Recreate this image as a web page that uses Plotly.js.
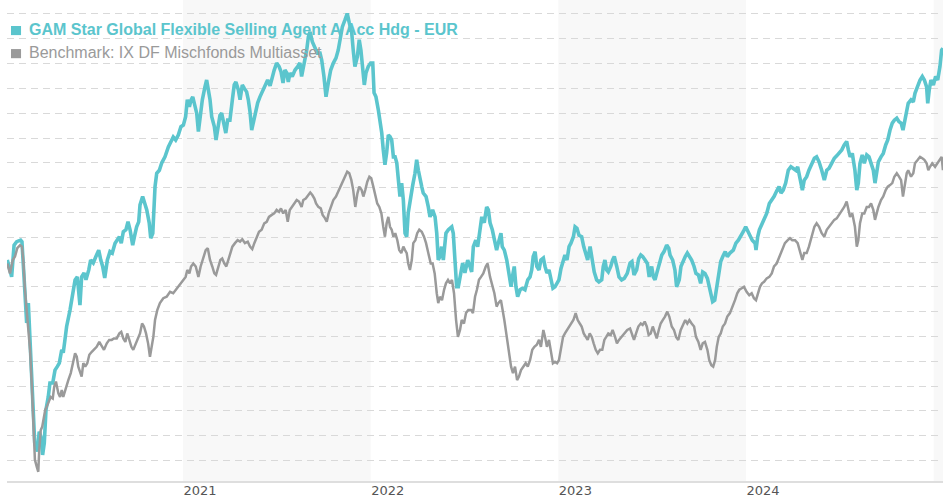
<!DOCTYPE html>
<html>
<head>
<meta charset="utf-8">
<script src="https://cdn.plot.ly/plotly-3.0.1.min.js"></script>
<style>html,body{margin:0;padding:0;background:#fff;}#chart{width:943px;height:500px;}</style>
</head>
<body>
<div id="chart"></div>
<script>
// Time in decimal years, values indexed (start ~ 100)
const fundName = "GAM Star Global Flexible Selling Agent A Acc Hdg - EUR";
const benchName = "Benchmark: IX DF Mischfonds Multiasset";
const yearTicks = [2021, 2022, 2023, 2024];
const yearLabels = ["2021", "2022", "2023", "2024"];
const shadedYears = [[2021, 2022], [2023, 2024], [2025, 2026]];

const fundT = [
2020.064,2020.087,2020.100,2020.114,2020.135,2020.142,2020.153,2020.162,2020.167,2020.176,
2020.189,2020.199,2020.210,2020.224,2020.234,2020.243,2020.252,2020.261,2020.270,2020.282,
2020.291,2020.306,2020.318,2020.330,2020.341,2020.354,2020.362,2020.371,2020.380,2020.398,
2020.412,2020.425,2020.437,2020.444,2020.451,2020.460,2020.473,2020.483,2020.498,2020.508,
2020.522,2020.536,2020.551,2020.562,2020.572,2020.583,2020.597,2020.611,2020.623,2020.638,
2020.650,2020.661,2020.671,2020.682,2020.696,2020.707,2020.718,2020.732,2020.743,2020.753,
2020.764,2020.771,2020.785,2020.798,2020.807,2020.820,2020.828,2020.839,2020.851,2020.860,
2020.874,2020.887,2020.904,2020.922,2020.940,2020.948,2020.961,2020.975,2020.989,2021.002,
2021.014,2021.023,2021.034,2021.043,2021.052,2021.060,2021.073,2021.082,2021.091,2021.103,
2021.117,2021.126,2021.135,2021.144,2021.153,2021.167,2021.176,2021.185,2021.197,2021.206,
2021.215,2021.228,2021.238,2021.250,2021.263,2021.273,2021.282,2021.295,2021.304,2021.316,
2021.327,2021.339,2021.348,2021.357,2021.366,2021.375,2021.384,2021.398,2021.410,2021.423,
2021.437,2021.451,2021.464,2021.476,2021.486,2021.499,2021.512,2021.522,2021.533,2021.543,
2021.553,2021.561,2021.570,2021.582,2021.597,2021.611,2021.623,2021.632,2021.646,2021.659,
2021.668,2021.677,2021.689,2021.703,2021.716,2021.730,2021.739,2021.751,2021.762,2021.774,
2021.787,2021.801,2021.815,2021.827,2021.840,2021.849,2021.863,2021.875,2021.886,2021.899,
2021.907,2021.916,2021.929,2021.939,2021.948,2021.957,2021.966,2021.975,2021.987,2022.000,
2022.011,2022.018,2022.028,2022.041,2022.050,2022.059,2022.067,2022.076,2022.085,2022.094,
2022.103,2022.112,2022.121,2022.130,2022.139,2022.147,2022.156,2022.165,2022.174,2022.183,
2022.192,2022.200,2022.209,2022.224,2022.236,2022.245,2022.254,2022.263,2022.272,2022.280,
2022.295,2022.307,2022.316,2022.330,2022.343,2022.352,2022.360,2022.369,2022.378,2022.387,
2022.401,2022.414,2022.432,2022.440,2022.449,2022.458,2022.467,2022.480,2022.490,2022.502,
2022.517,2022.529,2022.538,2022.547,2022.560,2022.570,2022.582,2022.592,2022.605,2022.618,
2022.627,2022.636,2022.648,2022.662,2022.671,2022.680,2022.694,2022.701,2022.712,2022.725,
2022.737,2022.748,2022.755,2022.765,2022.774,2022.783,2022.796,2022.808,2022.822,2022.837,
2022.849,2022.858,2022.866,2022.876,2022.885,2022.897,2022.907,2022.920,2022.929,2022.939,
2022.950,2022.961,2022.971,2022.982,2022.993,2023.003,2023.014,2023.026,2023.035,2023.046,
2023.057,2023.067,2023.080,2023.089,2023.099,2023.110,2023.124,2023.135,2023.146,2023.156,
2023.169,2023.181,2023.191,2023.204,2023.216,2023.231,2023.239,2023.248,2023.257,2023.266,
2023.279,2023.289,2023.298,2023.311,2023.323,2023.337,2023.351,2023.367,2023.382,2023.392,
2023.403,2023.417,2023.428,2023.439,2023.449,2023.462,2023.474,2023.484,2023.497,2023.506,
2023.515,2023.524,2023.538,2023.551,2023.563,2023.577,2023.588,2023.595,2023.609,2023.621,
2023.630,2023.644,2023.653,2023.666,2023.676,2023.687,2023.698,2023.710,2023.723,2023.733,
2023.746,2023.758,2023.769,2023.781,2023.794,2023.804,2023.813,2023.822,2023.833,2023.844,
2023.854,2023.865,2023.876,2023.889,2023.900,2023.914,2023.932,2023.946,2023.959,2023.971,
2023.985,2023.998,2024.010,2024.021,2024.033,2024.048,2024.053,2024.062,2024.071,2024.083,
2024.096,2024.110,2024.124,2024.137,2024.149,2024.163,2024.176,2024.186,2024.198,2024.211,
2024.225,2024.239,2024.252,2024.265,2024.275,2024.287,2024.300,2024.310,2024.323,2024.335,
2024.350,2024.364,2024.376,2024.389,2024.403,2024.417,2024.430,2024.442,2024.456,2024.470,
2024.483,2024.495,2024.510,2024.523,2024.536,2024.545,2024.554,2024.566,2024.580,2024.590,
2024.598,2024.607,2024.619,2024.630,2024.643,2024.655,2024.666,2024.678,2024.687,2024.696,
2024.705,2024.719,2024.731,2024.744,2024.755,2024.767,2024.779,2024.790,2024.803,2024.815,
2024.826,2024.836,2024.847,2024.856,2024.864,2024.879,2024.891,2024.900,2024.915,2024.927,
2024.939,2024.950,2024.962,2024.968,2024.976,2024.985,2024.998,2025.010,2025.021,2025.033,
2025.042,2025.049
];
const fundV = [
100.4,97.0,103.4,104.1,104.4,104.1,97.0,92.3,87.7,91.7,
80.9,71.6,63.5,61.8,65.8,64.8,61.1,63.5,70.2,72.8,
75.6,75.6,78.2,78.9,79.6,82.3,81.7,84.3,87.0,90.3,
93.0,96.4,97.0,94.8,91.3,97.0,97.8,96.4,98.4,100.4,
99.8,101.1,102.4,100.4,99.1,96.8,100.4,102.1,101.8,103.8,
104.4,105.1,103.8,106.1,106.5,108.1,106.5,103.4,105.4,107.1,
108.1,111.5,113.2,111.9,110.5,107.9,104.8,105.8,115.2,117.9,
118.5,120.0,121.2,123.2,124.6,125.2,124.6,125.6,127.3,127.6,
129.3,132.7,131.3,132.7,133.3,132.1,130.0,126.3,129.3,132.7,
135.3,136.7,134.7,132.7,129.3,127.3,124.6,127.3,129.6,130.0,
128.0,126.0,128.6,128.6,132.7,135.7,136.3,134.7,132.7,135.7,
135.0,134.3,132.7,130.3,126.6,128.3,129.6,132.1,133.3,134.3,
135.7,136.7,135.5,137.4,138.7,140.1,139.4,138.4,136.1,138.7,
138.1,136.3,138.1,137.4,138.7,139.4,140.1,137.4,140.1,142.7,
145.4,146.4,144.4,143.4,142.1,142.1,140.7,137.4,133.3,136.1,
138.7,140.1,141.1,142.7,145.4,147.4,148.8,150.1,148.2,146.2,
142.7,139.4,141.4,144.8,142.7,139.4,135.7,138.1,139.4,140.1,
140.1,134.1,133.3,130.6,128.6,126.0,122.6,119.6,122.0,125.6,
125.3,124.6,121.2,121.2,120.0,116.5,113.2,115.9,112.5,105.8,
105.1,109.9,112.5,115.5,117.9,120.6,118.5,116.5,115.2,113.9,
113.2,111.1,109.1,110.5,109.1,105.8,100.4,101.1,103.1,100.4,
105.8,106.5,107.1,105.8,99.1,95.0,95.0,97.8,99.8,97.8,
100.4,99.1,98.0,103.1,104.4,103.1,107.1,109.1,107.9,111.1,
110.5,107.9,106.5,104.4,102.4,103.8,105.8,103.1,102.4,100.4,
97.8,95.0,97.0,99.1,95.0,93.0,94.4,94.7,94.4,96.4,
97.0,98.4,101.1,102.1,99.1,98.4,100.4,100.8,99.1,97.8,
98.4,96.4,94.7,95.0,95.8,96.4,98.7,100.4,101.4,100.4,
103.1,103.8,105.1,107.1,106.8,105.4,105.1,103.1,101.8,100.4,
103.1,100.4,98.0,96.4,96.0,96.4,99.1,100.4,98.4,98.0,
99.1,100.4,101.1,99.1,97.0,96.4,96.7,97.7,99.8,100.1,
97.4,98.4,100.7,101.4,101.1,100.4,99.7,97.0,99.1,97.0,
96.4,97.7,99.7,101.4,102.1,103.4,102.8,101.4,100.4,98.4,
95.0,96.4,99.1,100.4,101.1,101.8,101.1,100.4,99.1,97.7,
97.4,95.7,98.0,97.7,96.7,95.0,93.0,92.0,92.3,95.0,
98.4,100.1,101.1,102.1,101.1,101.8,102.4,103.8,104.4,105.1,
106.1,107.1,106.1,105.1,104.4,103.8,102.4,105.1,106.5,107.5,
108.5,109.8,111.8,112.5,113.2,114.3,115.2,113.9,114.5,115.9,
118.5,119.2,118.9,118.5,119.2,117.2,114.5,116.5,117.2,118.5,
119.9,120.9,121.2,120.2,118.5,116.5,118.5,118.9,119.9,120.9,
121.4,121.9,122.6,123.6,124.3,122.6,121.2,121.9,118.5,114.5,
115.9,119.9,121.6,119.9,121.6,121.2,119.9,118.5,115.9,118.5,
120.2,121.2,121.9,123.6,124.6,126.6,128.0,128.6,129.0,128.3,
128.0,126.6,128.6,130.6,132.0,132.7,132.3,134.0,135.7,136.7,
137.4,136.7,135.3,132.0,134.7,136.7,135.7,137.4,136.7,139.4,
142.7,143.1
];

const benchT = [
2020.064,2020.078,2020.093,2020.105,2020.117,2020.132,2020.142,2020.149,2020.158,2020.170,
2020.176,2020.185,2020.194,2020.202,2020.211,2020.221,2020.229,2020.234,2020.242,2020.250,
2020.259,2020.266,2020.274,2020.284,2020.295,2020.306,2020.314,2020.323,2020.336,2020.345,
2020.354,2020.362,2020.377,2020.389,2020.402,2020.412,2020.425,2020.434,2020.442,2020.451,
2020.460,2020.469,2020.479,2020.490,2020.501,2020.514,2020.526,2020.540,2020.554,2020.567,
2020.579,2020.594,2020.607,2020.620,2020.632,2020.647,2020.661,2020.671,2020.682,2020.693,
2020.703,2020.714,2020.725,2020.735,2020.750,2020.760,2020.771,2020.782,2020.792,2020.803,
2020.814,2020.824,2020.833,2020.842,2020.851,2020.863,2020.877,2020.895,2020.913,2020.931,
2020.948,2020.961,2020.975,2020.989,2021.002,2021.014,2021.023,2021.034,2021.043,2021.055,
2021.068,2021.082,2021.094,2021.108,2021.121,2021.132,2021.144,2021.156,2021.167,2021.176,
2021.188,2021.199,2021.209,2021.220,2021.231,2021.241,2021.252,2021.263,2021.277,2021.291,
2021.304,2021.316,2021.330,2021.345,2021.357,2021.369,2021.380,2021.393,2021.405,2021.419,
2021.433,2021.446,2021.458,2021.473,2021.486,2021.499,2021.512,2021.522,2021.534,2021.547,
2021.558,2021.569,2021.579,2021.593,2021.606,2021.618,2021.632,2021.641,2021.654,2021.668,
2021.678,2021.689,2021.700,2021.709,2021.721,2021.734,2021.744,2021.757,2021.766,2021.776,
2021.787,2021.801,2021.815,2021.827,2021.840,2021.851,2021.863,2021.875,2021.886,2021.897,
2021.907,2021.918,2021.929,2021.939,2021.952,2021.961,2021.971,2021.982,2021.993,2022.003,
2022.014,2022.025,2022.035,2022.046,2022.057,2022.067,2022.076,2022.085,2022.094,2022.103,
2022.112,2022.121,2022.131,2022.142,2022.152,2022.163,2022.174,2022.183,2022.192,2022.200,
2022.209,2022.219,2022.227,2022.238,2022.248,2022.259,2022.272,2022.284,2022.295,2022.307,
2022.320,2022.330,2022.341,2022.352,2022.360,2022.369,2022.380,2022.391,2022.401,2022.412,
2022.423,2022.433,2022.444,2022.455,2022.465,2022.476,2022.485,2022.497,2022.508,2022.520,
2022.535,2022.545,2022.556,2022.566,2022.577,2022.588,2022.600,2022.613,2022.623,2022.636,
2022.648,2022.659,2022.671,2022.680,2022.694,2022.701,2022.712,2022.725,2022.737,2022.748,
2022.758,2022.769,2022.780,2022.790,2022.801,2022.813,2022.826,2022.837,2022.849,2022.861,
2022.872,2022.885,2022.897,2022.907,2022.920,2022.929,2022.939,2022.950,2022.961,2022.971,
2022.982,2022.993,2023.003,2023.014,2023.025,2023.035,2023.046,2023.057,2023.067,2023.080,
2023.092,2023.103,2023.114,2023.124,2023.135,2023.146,2023.156,2023.167,2023.178,2023.188,
2023.199,2023.210,2023.222,2023.234,2023.245,2023.255,2023.266,2023.279,2023.289,2023.302,
2023.312,2023.323,2023.337,2023.351,2023.367,2023.382,2023.392,2023.403,2023.414,2023.426,
2023.439,2023.449,2023.460,2023.471,2023.481,2023.492,2023.503,2023.513,2023.524,2023.535,
2023.545,2023.556,2023.568,2023.580,2023.591,2023.604,2023.616,2023.627,2023.639,2023.652,
2023.666,2023.676,2023.687,2023.698,2023.710,2023.723,2023.733,2023.746,2023.758,2023.769,
2023.781,2023.794,2023.804,2023.815,2023.825,2023.835,2023.844,2023.854,2023.865,2023.876,
2023.888,2023.900,2023.914,2023.929,2023.941,2023.953,2023.964,2023.977,2023.989,2024.003,
2024.017,2024.030,2024.042,2024.053,2024.064,2024.074,2024.085,2024.096,2024.110,2024.124,
2024.137,2024.149,2024.163,2024.177,2024.193,2024.207,2024.222,2024.234,2024.246,2024.261,
2024.275,2024.287,2024.300,2024.310,2024.323,2024.335,2024.350,2024.364,2024.376,2024.389,
2024.403,2024.417,2024.430,2024.442,2024.456,2024.470,2024.483,2024.495,2024.510,2024.523,
2024.536,2024.545,2024.554,2024.566,2024.580,2024.590,2024.598,2024.607,2024.619,2024.630,
2024.643,2024.655,2024.666,2024.678,2024.687,2024.696,2024.705,2024.719,2024.731,2024.744,
2024.755,2024.767,2024.779,2024.790,2024.803,2024.815,2024.826,2024.836,2024.847,2024.856,
2024.864,2024.879,2024.891,2024.900,2024.915,2024.927,2024.939,2024.950,2024.962,2024.971,
2024.980,2024.992,2025.007,2025.021,2025.033,2025.042,2025.049
];
const benchV = [
99.7,97.7,100.4,101.1,102.8,103.4,103.1,100.4,94.4,89.0,
87.7,82.3,75.6,67.5,60.1,58.7,57.7,62.1,66.1,66.8,
68.8,70.2,70.8,71.6,72.8,72.5,74.9,75.9,73.5,72.8,
74.2,72.8,74.9,76.2,77.6,79.6,81.6,80.9,78.9,77.9,
76.9,79.6,78.9,79.6,81.3,81.9,82.3,82.9,83.9,82.9,
82.3,83.6,84.3,84.3,84.6,84.6,85.6,85.9,84.6,83.9,
85.6,84.3,82.9,82.3,83.6,84.3,85.6,87.6,87.0,85.6,
83.6,80.9,82.9,84.9,88.3,90.3,91.7,92.7,93.0,94.0,
93.7,94.4,95.0,95.7,96.4,97.0,98.4,97.7,99.1,99.7,
99.1,97.0,99.1,101.1,102.4,102.8,100.4,99.1,97.7,97.4,
99.1,100.4,100.7,99.7,99.1,100.4,101.8,103.1,103.8,104.4,
104.1,104.6,103.8,104.1,103.1,102.6,103.8,105.1,106.1,106.5,
107.8,108.1,109.1,109.5,109.8,110.5,110.1,110.8,109.8,110.5,
108.1,110.5,111.1,111.8,112.5,112.2,111.1,112.5,112.8,113.5,
114.0,113.5,112.8,111.8,111.1,110.8,109.5,108.8,108.1,109.8,
111.1,112.5,113.2,114.2,115.2,116.2,117.2,118.2,117.9,116.5,
114.5,111.1,113.8,115.2,114.5,113.2,114.5,116.2,117.2,116.9,
115.2,113.2,111.8,111.1,109.8,107.1,105.1,107.8,109.1,107.1,
106.5,105.1,105.8,104.4,102.4,101.8,103.1,102.4,101.8,99.7,
98.4,100.4,103.8,104.4,105.8,106.5,106.1,105.1,103.8,101.8,
99.7,99.7,97.7,93.7,91.7,93.0,92.3,94.4,95.7,96.4,
95.7,96.4,93.7,88.3,84.9,86.3,88.3,87.6,89.7,90.3,
90.3,89.7,93.0,94.4,96.4,97.0,97.7,99.1,99.7,97.0,
95.0,93.7,91.0,91.7,92.3,91.0,88.3,84.9,81.6,78.9,
77.6,78.9,76.2,76.9,78.2,78.9,79.6,78.9,80.2,82.3,
82.9,83.3,84.3,82.9,86.3,84.9,82.9,84.3,81.6,79.6,
79.9,79.6,80.2,82.3,84.9,85.6,86.3,87.0,87.6,88.3,
89.7,88.3,87.6,87.0,85.6,84.9,84.3,85.6,84.9,83.6,
82.3,81.6,82.3,82.3,84.3,84.9,85.6,85.3,86.3,84.9,
83.6,84.3,84.9,85.6,86.3,86.6,85.6,84.3,85.6,87.0,
87.6,87.3,88.0,87.0,85.3,85.6,87.0,85.6,84.6,86.3,
87.6,88.3,89.0,90.0,89.0,87.0,86.3,84.9,84.3,86.3,
87.6,88.3,87.6,88.3,87.6,87.0,84.9,83.9,82.3,83.6,
83.9,82.3,80.2,79.2,78.9,80.2,82.9,84.9,85.6,87.0,
87.6,89.0,89.7,91.0,92.3,93.7,94.4,94.7,95.0,94.0,
93.3,93.7,92.7,92.3,94.0,95.0,95.7,96.0,96.7,97.0,
97.7,99.1,99.7,101.1,102.4,103.8,104.4,104.8,104.4,104.4,
103.8,102.4,100.4,101.8,101.8,103.1,105.1,107.1,107.8,107.1,
105.8,105.1,106.5,107.1,107.8,108.5,108.8,109.5,110.1,111.1,
112.2,110.5,109.1,109.8,107.1,103.1,104.4,107.8,109.8,109.8,
111.1,111.1,111.8,110.5,108.5,109.8,111.1,112.5,113.2,114.5,
115.2,115.5,115.9,117.2,117.9,117.2,116.5,113.2,115.9,117.9,
118.5,117.2,117.9,119.9,120.6,121.2,120.9,120.6,119.9,118.5,
119.2,119.9,119.2,119.9,120.6,121.2,118.5
];

const teal = "#5bc5cd";
const grey = "#9a9a9a";

const traces = [
  {x: fundT, y: fundV, type: "scatter", mode: "lines", name: fundName,
   line: {color: teal, width: 3.6}, hoverinfo: "skip"},
  {x: benchT, y: benchV, type: "scatter", mode: "lines", name: benchName,
   line: {color: grey, width: 2.5}, hoverinfo: "skip"}
];

const shapes = shadedYears.map(([a, b]) => ({
  type: "rect", xref: "x", yref: "paper", x0: a, x1: b, y0: 0, y1: 1,
  fillcolor: "#f8f8f8", line: {width: 0}, layer: "below"
}));
// legend squares
shapes.push({type: "rect", xref: "paper", yref: "paper", x0: 0.0043, x1: 0.0150, y0: 0.927, y1: 0.946,
  fillcolor: teal, line: {width: 0}, layer: "above"});
shapes.push({type: "rect", xref: "paper", yref: "paper", x0: 0.0043, x1: 0.0150, y0: 0.879, y1: 0.898,
  fillcolor: grey, line: {width: 0}, layer: "above"});

const annotations = [
  {xref: "paper", yref: "paper", x: 0.0214, y: 0.939, xanchor: "left", yanchor: "middle",
   text: "<b>" + fundName + "</b>", showarrow: false,
   font: {family: "Liberation Sans, Arial, sans-serif", size: 16, color: teal}},
  {xref: "paper", yref: "paper", x: 0.0214, y: 0.891, xanchor: "left", yanchor: "middle",
   text: benchName, showarrow: false,
   font: {family: "Liberation Sans, Arial, sans-serif", size: 16, color: grey}}
];

const layout = {
  width: 943, height: 500,
  margin: {l: 7, r: 0, t: 0, b: 19, pad: 0},
  paper_bgcolor: "#ffffff", plot_bgcolor: "#ffffff",
  showlegend: false,
  xaxis: {
    type: "linear", range: [2020.0623, 2025.0493],
    tickmode: "array", tickvals: yearTicks, ticktext: yearLabels,
    showgrid: false, zeroline: false, showline: true, linecolor: "#dedede", linewidth: 2,
    ticks: "", ticklabelshift: 17, ticklabelstandoff: -4,
    tickfont: {family: "DejaVu Sans, Verdana, sans-serif", size: 13, color: "#555555"},
    fixedrange: true
  },
  yaxis: {
    range: [55.85, 152.82], tick0: 0, dtick: 5,
    showticklabels: false, ticks: "",
    showgrid: true, gridcolor: "#d9d9d9", gridwidth: 1, griddash: "7px,5px",
    zeroline: false, showline: false, fixedrange: true
  },
  shapes: shapes,
  annotations: annotations
};

Plotly.newPlot("chart", traces, layout, {displayModeBar: false, staticPlot: true});
</script>
</body>
</html>
